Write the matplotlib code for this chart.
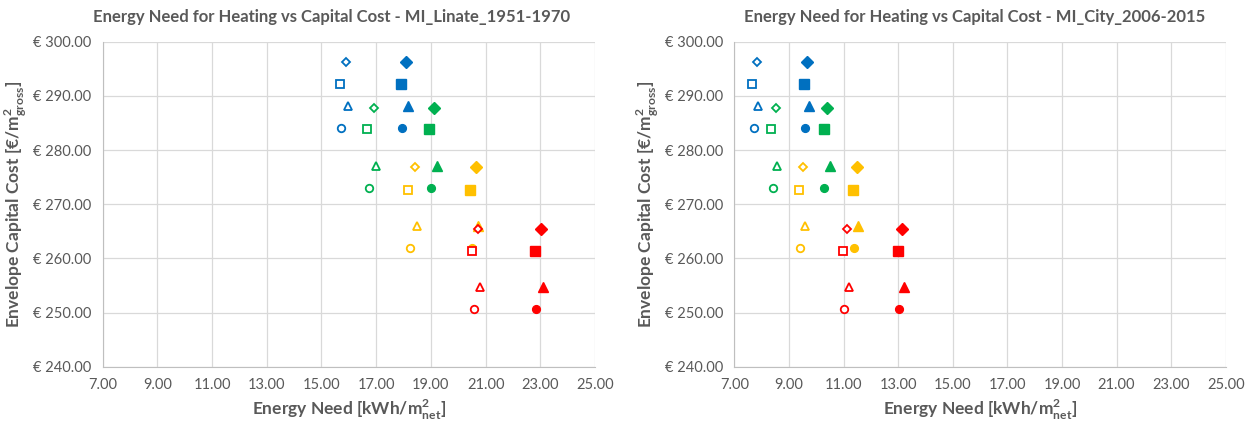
import matplotlib
matplotlib.use("Agg")
import matplotlib.pyplot as plt

plt.rcParams['font.family'] = ['Lato', 'DejaVu Sans']
plt.rcParams['mathtext.fontset'] = 'custom'
plt.rcParams['mathtext.rm'] = 'Lato'
plt.rcParams['mathtext.bf'] = 'Lato:bold'

# series order: blue, green, yellow, red  x  diamond, square, triangle, circle
colors = ['#0070C0', '#00B050', '#FFC000', '#FF0000']
markers = ['D', 's', '^', 'o']

# capital cost (same for both climates)
cost = [
    [296.2, 292.1, 288.1, 284.1],
    [287.8, 283.8, 277.0, 273.0],
    [276.8, 272.6, 265.9, 261.9],
    [265.5, 261.4, 254.8, 250.6],
]

# MI_Linate_1951-1970
linate_open = [
    [15.91, 15.67, 15.98, 15.73],
    [16.93, 16.68, 16.99, 16.74],
    [18.42, 18.17, 18.49, 18.24],
    [20.74, 20.50, 20.80, 20.56],
]
linate_filled = [
    [18.09, 17.89, 18.15, 17.94],
    [19.13, 18.94, 19.21, 18.99],
    [20.65, 20.43, 20.74, 20.50],
    [23.04, 22.79, 23.09, 22.83],
]

# MI_City_2006-2015
city_open = [
    [7.82, 7.66, 7.88, 7.72],
    [8.51, 8.34, 8.55, 8.40],
    [9.52, 9.37, 9.59, 9.40],
    [11.13, 10.99, 11.20, 11.02],
]
city_filled = [
    [9.68, 9.55, 9.73, 9.59],
    [10.40, 10.28, 10.50, 10.29],
    [11.48, 11.33, 11.54, 11.38],
    [13.16, 13.00, 13.21, 13.04],
]

titles = ['Energy Need for Heating vs Capital Cost - MI_Linate_1951-1970',
          'Energy Need for Heating vs Capital Cost - MI_City_2006-2015']

x_ticks = [7, 9, 11, 13, 15, 17, 19, 21, 23, 25]
y_ticks = [240, 250, 260, 270, 280, 290, 300]

open_size = {'D': 4.4, 's': 5.4, '^': 5.6, 'o': 5.4}
filled_size = {'D': 5.8, 's': 7.4, '^': 7.2, 'o': 5.6}

text_col = '#595959'
grid_col = '#D9D9D9'

fig = plt.figure(figsize=(12.55, 4.24), dpi=100)
ax1 = fig.add_axes([0.0818, 0.1351, 0.3923, 0.7666])
ax2 = fig.add_axes([0.5851, 0.1351, 0.3916, 0.7666])

for ax, xo, xf, title, tx in [(ax1, linate_open, linate_filled, titles[0], 0.464),
                              (ax2, city_open, city_filled, titles[1], 0.49)]:
    for i in range(4):
        for j in range(4):
            m = markers[j]
            ax.plot(xo[i][j], cost[i][j], marker=m, ms=open_size[m],
                    mfc='white', mec=colors[i], mew=1.3, ls='none', zorder=3)
            ax.plot(xf[i][j], cost[i][j], marker=m, ms=filled_size[m],
                    mfc=colors[i], mec=colors[i], ls='none', zorder=3)

    ax.set_xlim(7, 25)
    ax.set_ylim(240, 300)
    ax.set_xticks(x_ticks)
    ax.set_yticks(y_ticks)
    ax.set_xticklabels([f'{v:.2f}' for v in x_ticks])
    ax.set_yticklabels([f'€ {v:.2f}' for v in y_ticks])
    ax.tick_params(length=0, labelsize=10.5, labelcolor=text_col, pad=8)
    ax.grid(True, color=grid_col, lw=0.9)
    ax.set_axisbelow(True)
    for s in ['top', 'right']:
        ax.spines[s].set_visible(False)
    for s in ['left', 'bottom']:
        ax.spines[s].set_color('#BFBFBF')
    ax.set_title(title, fontsize=12, fontweight='bold', color=text_col,
                 pad=14, x=tx)
    ax.set_xlabel(r'Energy Need [kWh/m$^{\mathbf{2}}_{\mathbf{net}}$]',
                  fontsize=12.5, fontweight='bold', color=text_col, labelpad=4)
    ax.set_ylabel(r'Envelope Capital Cost [€/m$^{\mathbf{2}}_{\mathbf{gross}}$]',
                  fontsize=12.5, fontweight='bold', color=text_col, labelpad=3)

fig.savefig('out.png', dpi=100)
